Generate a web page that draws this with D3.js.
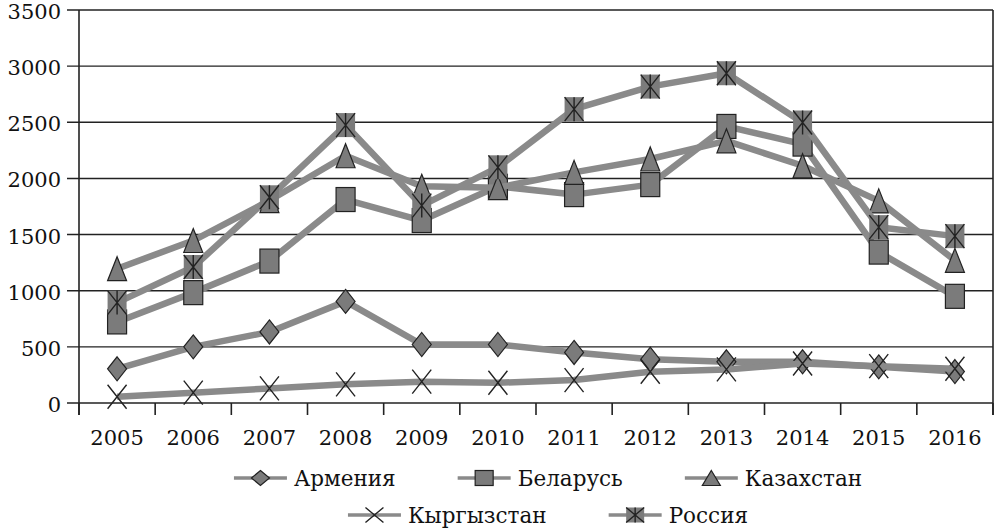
<!DOCTYPE html>
<html>
<head>
<meta charset="utf-8">
<script src="https://cdn.jsdelivr.net/npm/d3@7"></script>
<style>
  body { margin: 0; background: #fff; }
  svg { display: block; }
  text { font-family: "DejaVu Serif", "Liberation Serif", serif; fill: #111; }
</style>
</head>
<body>
<svg width="997" height="530"></svg>
<script>
const years = ["2005","2006","2007","2008","2009","2010","2011","2012","2013","2014","2015","2016"];
const yTicks = [0, 500, 1000, 1500, 2000, 2500, 3000, 3500];

const armenia    = [305, 500, 633, 905, 521, 521, 450, 390, 367, 367, 322, 280];
const belarus    = [722, 983, 1264, 1812, 1625, 1930, 1856, 1945, 2463, 2306, 1344, 950];
const kazakhstan = [1196, 1447, 1803, 2202, 1930, 1918, 2054, 2173, 2335, 2113, 1800, 1270];
const kyrgyzstan = [56, 92, 130, 166, 190, 180, 204, 278, 299, 352, 328, 305];
const russia     = [894, 1211, 1832, 2475, 1758, 2099, 2617, 2818, 2937, 2498, 1566, 1486];

const seriesNames = ["Армения", "Беларусь", "Казахстан", "Кыргызстан", "Россия"];
const seriesValues = [armenia, belarus, kazakhstan, kyrgyzstan, russia];
const seriesMarkers = ["diamond", "square", "triangle", "cross", "star"];

let svg = d3.select("svg");

let x = d3.scaleBand().domain(years).range([79, 993]);
let y = d3.scaleLinear().domain([0, 3500]).range([403, 10]);

const lineColor = "#8a8a8a";
const markFill = "#7b7b7b";
const ink = "#222";

// gridlines + y ticks
svg.append("g")
    .selectAll("line")
    .data(yTicks)
    .join("line")
    .attr("x1", 67)
    .attr("x2", 993)
    .attr("y1", d => y(d))
    .attr("y2", d => y(d))
    .attr("stroke", ink)
    .attr("stroke-width", 1.4);

svg.append("g")
    .selectAll("text")
    .data(yTicks)
    .join("text")
    .attr("x", 61)
    .attr("y", d => y(d) + 9)
    .attr("text-anchor", "end")
    .attr("font-size", 21)
    .text(d => d);

// axes lines
svg.append("line")
    .attr("x1", 79).attr("x2", 79)
    .attr("y1", y(3500)).attr("y2", 415)
    .attr("stroke", ink).attr("stroke-width", 1.6);
svg.append("line")
    .attr("x1", 993).attr("x2", 993)
    .attr("y1", y(3500)).attr("y2", 415)
    .attr("stroke", ink).attr("stroke-width", 1.6);

// x ticks at band edges
let edges = years.map(d => x(d)).concat([x.range()[1]]);
svg.append("g")
    .selectAll("line")
    .data(edges)
    .join("line")
    .attr("x1", d => d).attr("x2", d => d)
    .attr("y1", y(0)).attr("y2", 415)
    .attr("stroke", ink).attr("stroke-width", 1.6);

svg.append("g")
    .selectAll("text")
    .data(years)
    .join("text")
    .attr("x", d => x(d) + x.bandwidth() / 2)
    .attr("y", 445)
    .attr("text-anchor", "middle")
    .attr("font-size", 21)
    .text(d => d);

function drawMarker(g, type, w, h) {
    let hw = w / 2, hh = h / 2;
    if (type === "diamond") {
        g.append("path")
            .attr("d", `M0,${-hh}L${hw},0L0,${hh}L${-hw},0Z`)
            .attr("fill", markFill).attr("stroke", ink).attr("stroke-width", 1.2);
    } else if (type === "square") {
        g.append("rect")
            .attr("x", -hw).attr("y", -hh).attr("width", w).attr("height", h)
            .attr("fill", markFill).attr("stroke", ink).attr("stroke-width", 1.2);
    } else if (type === "triangle") {
        g.append("path")
            .attr("d", `M0,${-hh}L${hw},${hh}L${-hw},${hh}Z`)
            .attr("fill", markFill).attr("stroke", ink).attr("stroke-width", 1.2);
    } else if (type === "cross") {
        g.append("path")
            .attr("d", `M${-hw},${-hh}L${hw},${hh}M${hw},${-hh}L${-hw},${hh}`)
            .attr("fill", "none").attr("stroke", ink).attr("stroke-width", 1.4);
    } else if (type === "star") {
        g.append("rect")
            .attr("x", -hw).attr("y", -hh).attr("width", w).attr("height", h)
            .attr("fill", markFill).attr("stroke", "none");
        g.append("path")
            .attr("d", `M${-hw},${-hh}L${hw},${hh}M${hw},${-hh}L${-hw},${hh}M0,${-hh}L0,${hh}`)
            .attr("fill", "none").attr("stroke", ink).attr("stroke-width", 1.4);
    }
}

let line = d3.line()
    .x((d, i) => x(years[i]) + x.bandwidth() / 2)
    .y(d => y(d));

seriesValues.forEach(function(vals, s) {
    let g = svg.append("g");
    g.append("path")
        .datum(vals)
        .attr("fill", "none")
        .attr("stroke", lineColor)
        .attr("stroke-width", 6.5)
        .attr("stroke-linejoin", "round")
        .attr("d", line);
    g.selectAll("g.m")
        .data(vals)
        .join("g")
        .attr("class", "m")
        .attr("transform", (d, i) => `translate(${x(years[i]) + x.bandwidth() / 2},${y(d)})`)
        .each(function() { drawMarker(d3.select(this), seriesMarkers[s], 19, 24); });
});

// legend, two centred rows
let rows = [[0, 1, 2], [3, 4]];
let rowY = [478, 515];
let sampleW = 53, textGap = 7, itemGap = 62, legendCenter = 548;
rows.forEach(function(row, r) {
    let items = row.map(function(s) {
        let g = svg.append("g");
        g.append("line")
            .attr("x1", 0).attr("x2", sampleW)
            .attr("y1", 0).attr("y2", 0)
            .attr("stroke", lineColor).attr("stroke-width", 3.5);
        let m = g.append("g").attr("transform", `translate(${sampleW / 2},0)`);
        drawMarker(m, seriesMarkers[s], 18, 15);
        let t = g.append("text")
            .attr("x", sampleW + textGap)
            .attr("y", 8)
            .attr("font-size", 21.5)
            .text(seriesNames[s]);
        let w = sampleW + textGap + t.node().getComputedTextLength();
        return {g: g, w: w};
    });
    let total = d3.sum(items, d => d.w) + itemGap * (items.length - 1);
    let cx = legendCenter - total / 2;
    items.forEach(function(it) {
        it.g.attr("transform", `translate(${cx},${rowY[r]})`);
        cx += it.w + itemGap;
    });
});
</script>
</body>
</html>
